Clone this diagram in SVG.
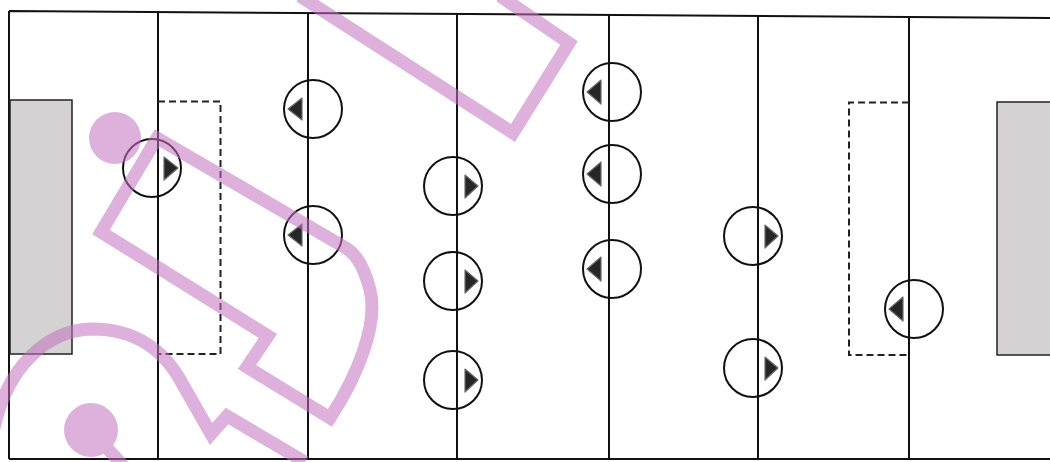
<svg xmlns="http://www.w3.org/2000/svg" width="1050" height="462" viewBox="0 0 1050 462">
<style>
.ln{stroke:#111;stroke-width:2;fill:none}
.goal{fill:#d4d2d2;stroke:#222;stroke-width:1.5}
.area{fill:none;stroke:#222;stroke-width:2;stroke-dasharray:7 4}
.pc{fill:none;stroke:#111;stroke-width:2}
.tri{fill:#262626;stroke:#6a6a6a;stroke-width:1.2;stroke-linejoin:round}
.wm{fill:none;stroke:#c272bf;stroke-width:13;stroke-linejoin:miter}
.wmf{fill:#c272bf}
</style>
<rect width="1050" height="462" fill="#fff"/>
<g id="field">
<path class="ln" d="M9,11 L1050,18 M9,11 L9,459 M9,459 L1050,459"/>
<path class="ln" d="M158,12 V459 M308,13 V459 M457,14 V459 M609,15 V459 M758,16 V459 M909,17 V459"/>
</g>
<g id="goal-left"><rect class="goal" x="10" y="100" width="62" height="254"/></g>
<g id="goal-right"><rect class="goal" x="997" y="102" width="60" height="253"/></g>
<g id="area-left"><path class="area" d="M158,101.5 H220.5 V354 H158"/></g>
<g id="area-right"><path class="area" d="M909,102.5 H849 V355 H909"/></g>
<g id="connectors"></g>
<g id="p1"><circle class="pc" cx="152" cy="168" r="29"/><path class="tri" d="M164,157 L178,168 L164,180 Z"/></g>
<g id="p2"><circle class="pc" cx="313" cy="109" r="29"/><path class="tri" d="M302,98 L288,109 L302,120 Z"/></g>
<g id="p3"><circle class="pc" cx="313" cy="235" r="29"/><path class="tri" d="M302,224 L288,235 L302,246 Z"/></g>
<g id="p4"><circle class="pc" cx="453" cy="186" r="29"/><path class="tri" d="M465,175 L478,186 L465,198 Z"/></g>
<g id="p5"><circle class="pc" cx="453" cy="281" r="29"/><path class="tri" d="M465,270 L478,281 L465,293 Z"/></g>
<g id="p6"><circle class="pc" cx="453" cy="380" r="29"/><path class="tri" d="M465,369 L478,380 L465,392 Z"/></g>
<g id="p7"><circle class="pc" cx="612" cy="92" r="29"/><path class="tri" d="M601,80 L587,92 L601,104 Z"/></g>
<g id="p8"><circle class="pc" cx="612" cy="174" r="29"/><path class="tri" d="M601,162 L587,174 L601,186 Z"/></g>
<g id="p9"><circle class="pc" cx="612" cy="269" r="29"/><path class="tri" d="M601,257 L587,269 L601,281 Z"/></g>
<g id="p10"><circle class="pc" cx="753" cy="236" r="29"/><path class="tri" d="M765,225 L778,236 L765,248 Z"/></g>
<g id="p11"><circle class="pc" cx="753" cy="368" r="29"/><path class="tri" d="M765,357 L778,368 L765,380 Z"/></g>
<g id="p12"><circle class="pc" cx="914" cy="309" r="29"/><path class="tri" d="M903,297 L889,309 L903,321 Z"/></g>
<g id="watermark" opacity="0.55">
<path class="wm" d="M300,-4 L513,133 L569,43 L500,-4"/>
<circle class="wmf" cx="115" cy="138" r="26"/>
<path class="wm" d="M157,138 L101,232 L268,336 L247,367 L330,418 C360,372 378,322 370,290 C364,266 356,254 346,248 Z"/>
<path class="wm" d="M-6,428 C8,365 48,330 92,329 C135,329 165,350 183,385 L211,434 L227,416 L305,462"/>
<circle class="wmf" cx="91" cy="430" r="27"/>
<path class="wm" d="M100,440 L125,468"/>
</g>
</svg>
